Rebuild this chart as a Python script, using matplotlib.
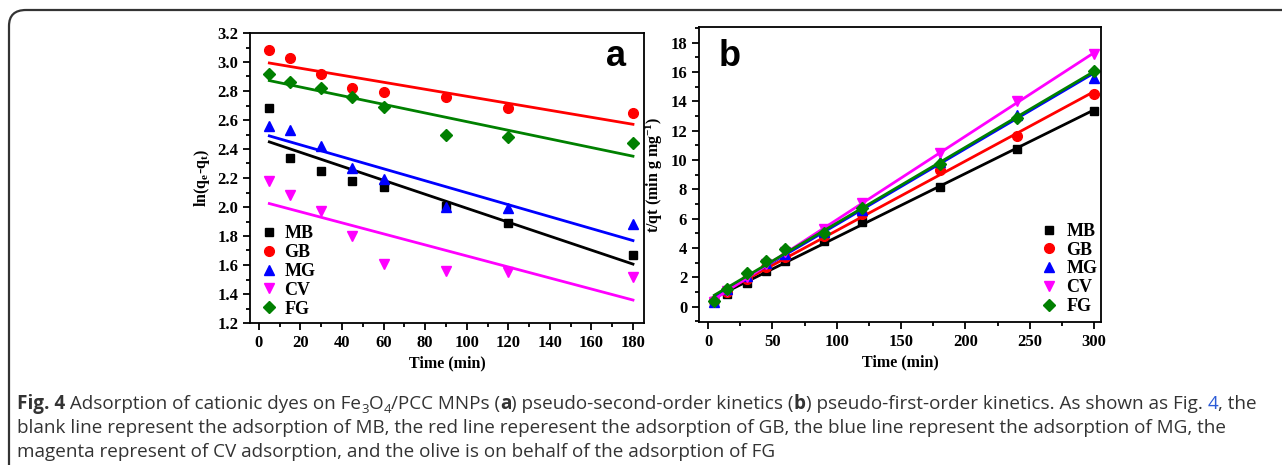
import numpy as np
import matplotlib
matplotlib.use("Agg")
import matplotlib.pyplot as plt
from matplotlib.ticker import MultipleLocator, FormatStrFormatter
from matplotlib.path import Path
from matplotlib.patches import PathPatch

# ---- data, panel a (pseudo-second-order) ----
time_a = [5, 15, 30, 45, 60, 90, 120, 180]
a_MB = [2.68, 2.34, 2.25, 2.18, 2.14, 2.01, 1.89, 1.67]
a_GB = [3.08, 3.03, 2.92, 2.82, 2.79, 2.76, 2.68, 2.645]
a_MG = [2.56, 2.53, 2.42, 2.27, 2.19, 2.00, 1.99, 1.88]
a_CV = [2.18, 2.08, 1.97, 1.80, 1.61, 1.56, 1.55, 1.52]
a_FG = [2.92, 2.86, 2.82, 2.76, 2.69, 2.50, 2.48, 2.44]

# ---- data, panel b (pseudo-first-order) ----
time_b = [5, 15, 30, 45, 60, 90, 120, 180, 240, 300]
b_MB = [0.40, 0.90, 1.65, 2.45, 3.15, 4.50, 5.80, 8.15, 10.75, 13.35]
b_GB = [0.40, 1.00, 1.90, 2.70, 3.40, 4.80, 6.30, 9.30, 11.65, 14.50]
b_MG = [0.35, 1.20, 2.10, 2.95, 3.60, 5.10, 6.60, 9.90, 13.10, 15.60]
b_CV = [0.30, 1.10, 2.00, 2.90, 3.70, 5.30, 7.10, 10.50, 14.00, 17.20]
b_FG = [0.40, 1.20, 2.30, 3.15, 3.95, 5.00, 6.70, 9.70, 12.90, 16.10]

names = ["MB", "GB", "MG", "CV", "FG"]
colors = ["black", "#ff0000", "#0000ff", "#ff00ff", "#008000"]
markers = ["s", "o", "^", "v", "D"]
msizes = [6, 7, 7, 7, 6]

serif = "Liberation Serif"
plt.rcParams["mathtext.fontset"] = "custom"
plt.rcParams["mathtext.rm"] = "Liberation Serif:bold"
plt.rcParams["mathtext.bf"] = "Liberation Serif:bold"
plt.rcParams["mathtext.it"] = "Liberation Serif:bold"

fig = plt.figure(figsize=(12.82, 4.65), dpi=100)

# frame round the figure (top and left sides, rounded corner)
verts = [(9 / 1282, -0.01), (9 / 1282, 1 - 26 / 465), (9 / 1282, 1 - 10 / 465),
         (26 / 1282, 1 - 10 / 465), (1.01, 1 - 10 / 465)]
codes = [Path.MOVETO, Path.LINETO, Path.CURVE3, Path.CURVE3, Path.LINETO]
fig.patches.append(PathPatch(Path(verts, codes), transform=fig.transFigure,
                             fill=False, lw=1.6, ec="#333333"))

lab_kw = dict(fontfamily=serif, fontweight="bold", fontsize=11.5)
leg_prop = {"family": serif, "weight": "bold", "size": 13}


def style_axes(ax):
    ax.tick_params(which="both", direction="out", top=False, right=False,
                   width=1.3, labelsize=12)
    ax.tick_params(which="major", length=5)
    ax.tick_params(which="minor", length=3)
    for s in ax.spines.values():
        s.set_linewidth(1.3)
    for lab in ax.get_xticklabels() + ax.get_yticklabels():
        lab.set_fontfamily(serif)
        lab.set_fontweight("bold")


def draw_series(ax, x, series, xfit):
    for ys, n, c, m, ms in zip(series, names, colors, markers, msizes):
        ax.plot(x, ys, ls="none", marker=m, color=c, ms=ms, label=n)
        k, b = np.polyfit(x, ys, 1)
        xx = np.array(xfit)
        ax.plot(xx, k * xx + b, color=c, lw=2)


# ---- panel a ----
ax1 = fig.add_axes([250 / 1282, 1 - 323 / 465, 394 / 1282, 290 / 465])
draw_series(ax1, time_a, [a_MB, a_GB, a_MG, a_CV, a_FG], [5, 180])
ax1.set_xlim(-4.3, 185.3)
ax1.set_ylim(1.2, 3.2)
ax1.xaxis.set_major_locator(MultipleLocator(20))
ax1.xaxis.set_minor_locator(MultipleLocator(10))
ax1.yaxis.set_major_locator(MultipleLocator(0.2))
ax1.yaxis.set_minor_locator(MultipleLocator(0.1))
ax1.yaxis.set_major_formatter(FormatStrFormatter("%.1f"))
style_axes(ax1)
ax1.set_xlabel("Time (min)", labelpad=3, **lab_kw)
ax1.set_ylabel(r"ln(q$_\mathrm{e}$-q$_\mathrm{t}$)", labelpad=4, **lab_kw)
ax1.text(0.93, 0.92, "a", transform=ax1.transAxes, ha="center", va="center",
         fontsize=26, fontweight="bold", fontfamily="Liberation Sans")
ax1.legend(loc="lower left", frameon=False, numpoints=1, handletextpad=0.0,
           handlelength=1.7, labelspacing=0.1, borderaxespad=0.0,
           borderpad=0.3, bbox_to_anchor=(-0.005, 0.0), prop=leg_prop)

# ---- panel b ----
ax2 = fig.add_axes([699 / 1282, 1 - 322 / 465, 402 / 1282, 295 / 465])
draw_series(ax2, time_b, [b_MB, b_GB, b_MG, b_CV, b_FG], [5, 300])
ax2.set_xlim(-7, 305.4)
ax2.set_ylim(-1.04, 19.07)
ax2.xaxis.set_major_locator(MultipleLocator(50))
ax2.xaxis.set_minor_locator(MultipleLocator(25))
ax2.yaxis.set_major_locator(MultipleLocator(2))
ax2.yaxis.set_minor_locator(MultipleLocator(1))
style_axes(ax2)
ax2.set_xlabel("Time (min)", labelpad=3, **lab_kw)
ax2.set_ylabel(r"t/qt (min g mg$^{-1}$)", labelpad=4, **lab_kw)
ax2.text(0.05, 0.9, "b", transform=ax2.transAxes, ha="left", va="center",
         fontsize=26, fontweight="bold", fontfamily="Liberation Sans")
ax2.legend(loc="lower right", frameon=False, numpoints=1, handletextpad=0.0,
           labelspacing=0.1, borderaxespad=0.0, borderpad=0.3,
           bbox_to_anchor=(1.005, 0.005), prop=leg_prop)

# ---- caption ----
cap_font = "Open Sans"
cap_size = 13.6
renderer = fig.canvas.get_renderer()


def draw_runs(x0, y0, runs):
    x = x0
    for txt, kw in runs:
        size = kw.get("size", cap_size)
        dy = kw.get("dy", 0)
        t = fig.text(x / 1282, 1 - (y0 - dy) / 465, txt, fontsize=size,
                     fontfamily=cap_font, fontweight=kw.get("weight", "normal"),
                     color=kw.get("color", "#333333"), va="baseline", ha="left")
        bb = t.get_window_extent(renderer)
        x += bb.width


sub = {"size": 9.5, "dy": -4}
line1 = [("Fig. 4", {"weight": "bold"}),
         (" Adsorption of cationic dyes on Fe", {}), ("3", sub), ("O", {}),
         ("4", sub), ("/PCC MNPs (", {}), ("a", {"weight": "bold"}),
         (") pseudo-second-order kinetics (", {}), ("b", {"weight": "bold"}),
         (") pseudo-first-order kinetics. As shown as Fig. ", {}),
         ("4", {"color": "#2b5bd7"}), (", the", {})]
line2 = [("blank line represent the adsorption of MB, the red line reperesent the "
          "adsorption of GB, the blue line represent the adsorption of MG, the", {})]
line3 = [("magenta represent of CV adsorption, and the olive is on behalf of the "
          "adsorption of FG", {})]
draw_runs(17, 409, line1)
draw_runs(17, 433, line2)
draw_runs(17, 457, line3)

fig.savefig("out.png", dpi=100)
